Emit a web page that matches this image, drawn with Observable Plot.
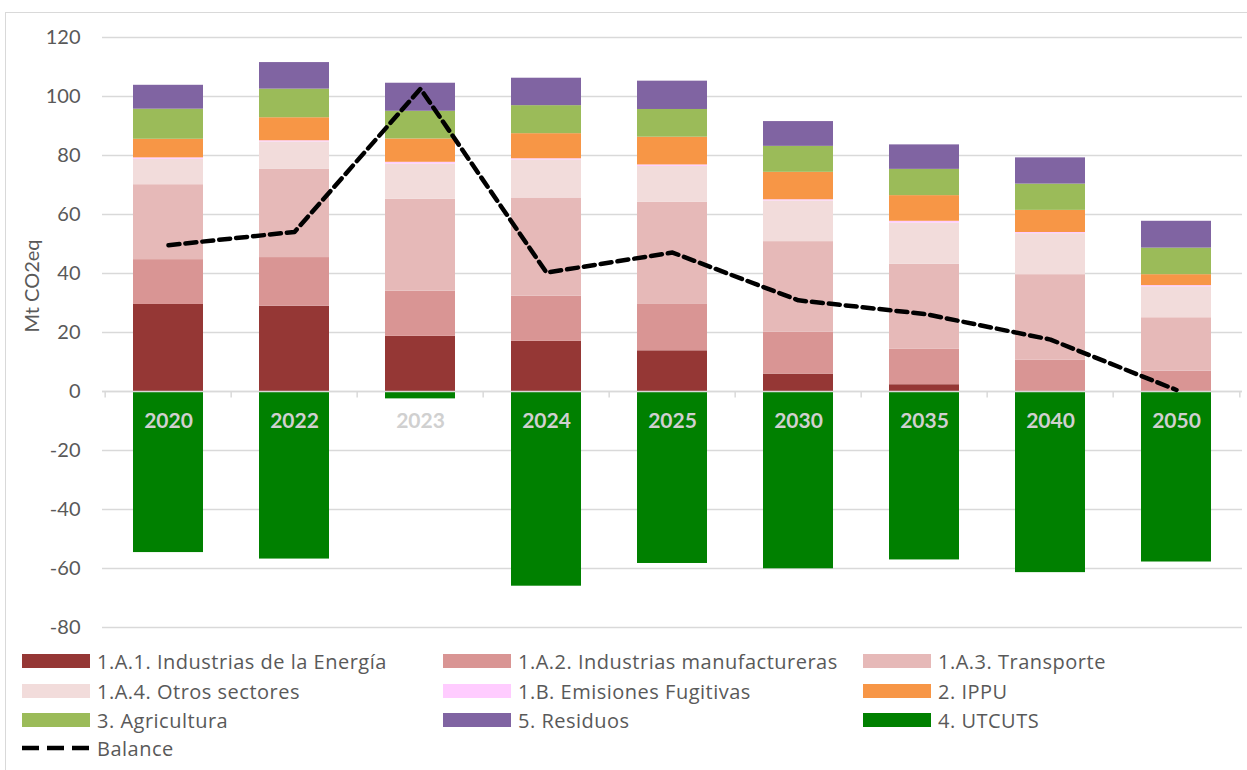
<!DOCTYPE html>
<html>
<head>
<meta charset="utf-8">
<script src="https://cdn.jsdelivr.net/npm/d3@7"></script>
<script src="https://cdn.jsdelivr.net/npm/@observablehq/plot@0.6"></script>
<style>
  html, body { margin: 0; padding: 0; background: #fff; }
  #wrap { position: relative; width: 1247px; height: 770px; overflow: hidden; font-family: Lato, "Open Sans", sans-serif; }
  #frame { position: absolute; left: 5px; top: 12px; width: 1260px; height: 780px; border: 1px solid #d9d9d9; box-sizing: border-box; }
  #chart { position: absolute; left: 0; top: 0; }
  .leg { position: absolute; display: flex; align-items: center; font-family: "Open Sans", sans-serif; font-size: 20px; letter-spacing: 0.5px; color: #595959; white-space: nowrap; }
  .sw { width: 68px; height: 14px; margin-right: 7px; }
</style>
</head>
<body>
<div id="wrap">
  <div id="frame"></div>
  <div id="chart"></div>
  <div id="legend"></div>
</div>
<script>
const years = ["2020", "2022", "2023", "2024", "2025", "2030", "2035", "2040", "2050"];
const seriesNames = [
  "1.A.1. Industrias de la Energía",
  "1.A.2. Industrias manufactureras",
  "1.A.3. Transporte",
  "1.A.4. Otros sectores",
  "1.B. Emisiones Fugitivas",
  "2. IPPU",
  "3. Agricultura",
  "5. Residuos",
  "4. UTCUTS"
];
const seriesColors = ["#953735", "#d99594", "#e6b9b8", "#f2dcdb", "#ffccff", "#f79646", "#9bbb59", "#8064a2", "#008000"];

const energia        = [29.5, 28.9, 18.7, 17.0, 13.8, 5.9, 2.3, 0.0, 0.0];
const manufactureras = [15.2, 16.5, 15.3, 15.3, 15.9, 14.2, 12.1, 10.6, 6.9];
const transporte     = [25.4, 30.0, 31.2, 33.3, 34.4, 30.7, 28.7, 29.0, 18.1];
const otrosSectores  = [8.6, 9.2, 11.9, 12.9, 12.2, 13.8, 14.0, 13.9, 10.5];
const fugitivas      = [0.5, 0.4, 0.6, 0.4, 0.5, 0.4, 0.6, 0.4, 0.4];
const ippu           = [6.3, 7.8, 7.9, 8.5, 9.4, 9.3, 8.7, 7.5, 3.7];
const agricultura    = [10.2, 9.7, 9.4, 9.5, 9.4, 8.8, 8.9, 8.9, 9.0];
const residuos       = [8.1, 9.0, 9.5, 9.3, 9.6, 8.4, 8.3, 8.9, 9.1];
const utcuts         = [-54.6, -56.8, -2.5, -66.0, -58.3, -60.1, -57.1, -61.4, -57.8];
const balance        = [49.6, 54.1, 102.6, 40.3, 47.1, 30.9, 26.3, 17.6, 0.5];

const yTicks = [120, 100, 80, 60, 40, 20, 0, -20, -40, -60, -80];

const seriesValues = [energia, manufactureras, transporte, otrosSectores, fugitivas, ippu, agricultura, residuos, utcuts];
const rows = [];
seriesNames.forEach((s, si) => years.forEach((y, yi) => rows.push({year: y, series: s, value: seriesValues[si][yi]})));
const balanceRows = years.map((y, i) => ({year: y, value: balance[i]}));

const W = 1247, ML = 102, MR = 5;
const step = (W - ML - MR) / years.length;

const plot = Plot.plot({
  width: W,
  height: 640,
  marginTop: 37,
  marginBottom: 13,
  marginLeft: ML,
  marginRight: MR,
  style: {fontFamily: "Lato, 'Open Sans', sans-serif", background: "transparent"},
  x: {domain: years, paddingInner: 0.447, paddingOuter: 0.2235, axis: null},
  y: {domain: [-80, 120], ticks: yTicks, label: null},
  color: {domain: seriesNames, range: seriesColors},
  marks: [
    Plot.gridY(yTicks, {stroke: "#d9d9d9", strokeOpacity: 1, strokeWidth: 1.5}),
    Plot.axisY(yTicks, {tickSize: 0, tickPadding: 22, tickFormat: d => String(d), fontSize: 20, fill: "#595959", label: null}),
    Plot.text(["Mt CO2eq"], {frameAnchor: "left", dx: -70, rotate: -90, fontSize: 20, fill: "#595959"}),
    Plot.barY(rows, {x: "year", y: "value", fill: "series", order: seriesNames}),
    Plot.ruleY([0], {stroke: "#d9d9d9", strokeWidth: 1.5}),
    Plot.ruleX(years, {x: d => d, y1: 0, y2: -2.2, dx: -step / 2, stroke: "#d9d9d9", strokeWidth: 1.5}),
    Plot.ruleX(years.slice(-1), {x: d => d, y1: 0, y2: -2.2, dx: step / 2, stroke: "#d9d9d9", strokeWidth: 1.5}),
    Plot.text(years, {x: d => d, y: -10, text: d => d, fill: "#d0d0d0", fontWeight: "bold", fontSize: 21}),
    Plot.line(balanceRows, {x: "year", y: "value", stroke: "black", strokeWidth: 4.5, strokeDasharray: "11,6"})
  ]
});
document.getElementById("chart").appendChild(plot);

// legend
const legend = document.getElementById("legend");
const colX = [22, 443, 863];
const rowY = [661, 691, 720, 748];
const legendOrder = [0, 1, 2, 3, 4, 5, 6, 7, 8];
legendOrder.forEach((si, k) => {
  const el = document.createElement("div");
  el.className = "leg";
  el.style.left = colX[k % 3] + "px";
  el.style.top = (rowY[Math.floor(k / 3)] - 12) + "px";
  el.style.height = "24px";
  el.innerHTML = `<div class="sw" style="background:${seriesColors[si]}"></div><span>${seriesNames[si]}</span>`;
  legend.appendChild(el);
});
const bl = document.createElement("div");
bl.className = "leg";
bl.style.left = colX[0] + "px";
bl.style.top = (rowY[3] - 12) + "px";
bl.style.height = "24px";
bl.innerHTML = `<svg width="68" height="14" style="margin-right:7px"><line x1="0" x2="68" y1="7" y2="7" stroke="black" stroke-width="4.5" stroke-dasharray="17,8"/></svg><span>Balance</span>`;
legend.appendChild(bl);
</script>
</body>
</html>
